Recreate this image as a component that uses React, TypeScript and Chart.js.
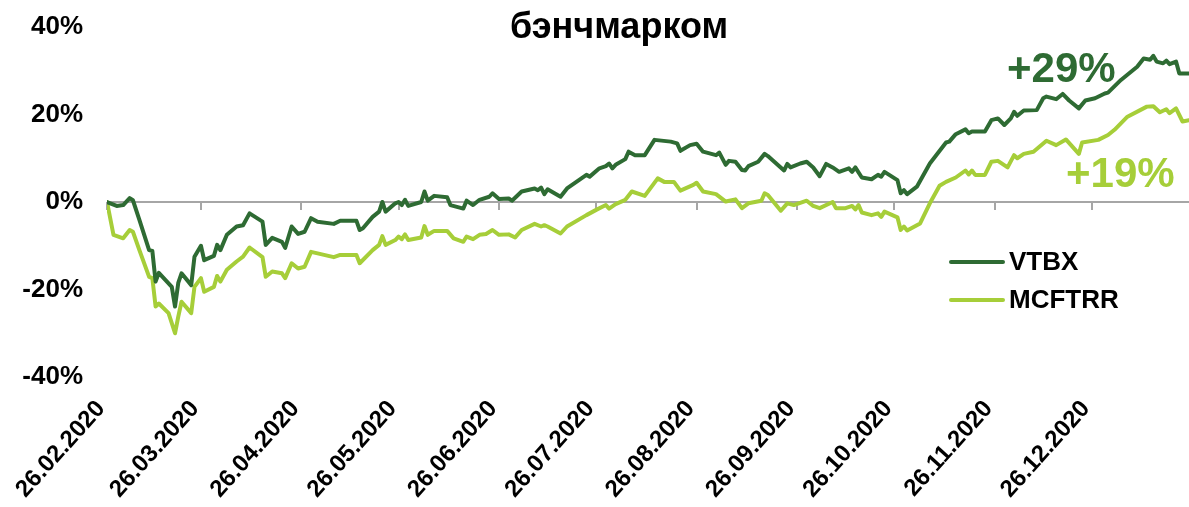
import React, { useEffect, useRef } from "react";
import { Chart, registerables } from "chart.js";

Chart.register(...registerables);

// ---- data ----
// Days are counted from 26.02.2020 (day 0)
const titleText = "бэнчмарком";
const tickDays = [0, 29, 60, 90, 121, 151, 182, 213, 243, 274, 304];
const tickLabels = [
  "26.02.2020", "26.03.2020", "26.04.2020", "26.05.2020", "26.06.2020",
  "26.07.2020", "26.08.2020", "26.09.2020", "26.10.2020", "26.11.2020", "26.12.2020",
];
const lastDay = 334;
const yTickValues = [-40, -20, 0, 20, 40];

const vtbxName = "VTBX";
const mcftrrName = "MCFTRR";
const vtbxFinalLabel = "+29%";
const mcftrrFinalLabel = "+19%";

const vtbxDays = [
  0, 3, 5, 7, 8, 10, 13, 14, 15, 16, 20, 21, 22, 23, 26, 27, 29, 30, 33, 34, 35, 37, 40, 42, 44,
  48, 49, 51, 54, 55, 57, 59, 61, 63, 65, 70, 72, 77, 78, 79, 82, 84, 85, 86, 89, 90, 91, 92, 93,
  97, 98, 99, 101, 105, 106, 110, 111, 113, 115, 118, 119, 121, 124, 125, 128, 132, 133, 134, 135,
  136, 140, 142, 148, 149, 152, 154, 155, 156, 157, 160, 161, 163, 166, 169, 174, 176, 177, 180,
  182, 184, 188, 189, 191, 192, 194, 196, 197, 198, 201, 203, 204, 209, 210, 211, 214, 216, 218,
  220, 222, 224, 226, 229, 230, 231, 233, 236, 238, 239, 240, 244, 245, 246, 247, 250, 254, 259,
  260, 262, 265, 266, 267, 271, 273, 275, 277, 279, 280, 281, 283, 287, 289, 290, 293, 295, 297,
  300, 302, 305, 308, 309, 313, 318, 320, 322, 323, 324, 326, 327, 328, 330, 331, 334,
];
const vtbxValues = [
  0, -0.9, -0.7, 0.9, 0.4, -4.1, -11, -11.2, -18.2, -16.2, -19.4, -23.9, -18.5, -16.3, -19, -12.5,
  -10, -13.3, -12.3, -9.8, -11, -7.5, -5.6, -5.3, -2.6, -4.5, -9.8, -8.2, -9.1, -10.5, -5.6, -7.3,
  -6.8, -3.7, -4.5, -5, -4.3, -4.3, -6.4, -6, -3.4, -2.2, 0, -2.2, -0.3, 0, -0.7, 0.5, -0.9, 0, 2.4,
  0.3, 1.4, 1.1, -0.7, -1.5, 0.3, -0.7, 0.5, 1.2, 2, 0.7, 0.8, 0.3, 2.4, 3.1, 2.7, 3.3, 1.8, 2.9,
  1.2, 3.1, 6.2, 5.8, 7.7, 8.2, 8.8, 7.7, 8.5, 9.8, 11.5, 10.7, 10.7, 14.2, 13.8, 13.4, 11.7, 13,
  13.3, 11.5, 10.7, 11.3, 8.5, 9.4, 9.2, 7.3, 7.2, 8.2, 9.2, 11, 10.5, 7.2, 8.7, 7.9, 8.8, 9.2, 7.9,
  5.9, 8.7, 7.9, 6.9, 7.7, 6.9, 7.9, 5.6, 5.2, 6.2, 5.8, 6.9, 5, 2, 2.7, 1.8, 3.5, 8.8, 13.6, 13.8,
  15.5, 16.6, 15.7, 16.1, 16.1, 18.7, 19.1, 17.6, 19.1, 20.6, 19.7, 20.9, 21, 23.7, 24.1, 23.5,
  24.7, 23.2, 21.4, 23.2, 23.7, 24.8, 25, 27.9, 30.9, 32.8, 32.5, 33.4, 32.1, 31.7, 32.3, 31.5,
  32.1, 29.4, 29.4,
];

const mcftrrDays = [
  0, 2, 5, 7, 8, 10, 13, 14, 15, 16, 19, 21, 22, 23, 26, 27, 29, 30, 33, 34, 35, 37, 40, 42, 44,
  48, 49, 51, 54, 55, 57, 59, 61, 63, 70, 72, 77, 78, 82, 84, 85, 86, 89, 90, 91, 92, 93, 97, 98,
  99, 101, 105, 107, 110, 111, 113, 115, 117, 119, 121, 124, 126, 128, 132, 134, 135, 136, 140,
  142, 148, 151, 154, 155, 157, 160, 162, 166, 170, 172, 175, 177, 181, 182, 184, 188, 191, 194,
  196, 198, 202, 203, 204, 208, 210, 212, 216, 218, 220, 224, 225, 228, 230, 231, 232, 233, 236,
  238, 239, 240, 244, 245, 246, 247, 251, 254, 257, 259, 262, 265, 266, 267, 268, 271, 273, 275,
  278, 280, 281, 283, 286, 290, 293, 296, 300, 301, 306, 309, 311, 315, 321, 323, 325, 327, 328,
  330, 332, 334,
];
const mcftrrValues = [
  0, -7.5, -8.3, -6.4, -6.8, -11, -17.1, -17.4, -23.9, -23.2, -25.4, -30, -26.2, -22.8, -25.4,
  -19.4, -17.4, -20.5, -19.4, -16.9, -18.2, -15.5, -13.6, -12.5, -10.4, -12.6, -17.1, -15.9, -16.3,
  -17.4, -14, -15.2, -14.8, -11.4, -12.6, -12.1, -12.1, -14, -11, -9.8, -7.8, -9.8, -8.7, -7.9,
  -8.5, -7.4, -8.7, -8.1, -5.5, -7.5, -6.6, -6.6, -8.3, -9.1, -7.9, -8.5, -7.5, -7.3, -6.4, -7.5,
  -7.4, -8.1, -6.4, -5, -5.6, -5.3, -5.6, -7.2, -5.6, -3, -1.8, -0.7, -1.5, -0.5, 0.5, 2.4, 1.4,
  5.4, 4.6, 4.6, 2.6, 3.9, 4.4, 2.4, 1.8, 0.1, 0.6, -1.4, -0.3, 0.3, 2, 1.6, -2, -0.3, -0.7, 0.3,
  -0.9, -1.4, 0, -1.4, -1.4, -0.9, -1.7, -0.7, -2.4, -3, -2.6, -3.4, -2.2, -3.5, -6.4, -5.6, -6.5,
  -4.9, -0.3, 3.7, 4.6, 5.6, 7.2, 6.3, 7.2, 6.2, 6.2, 9.2, 9.4, 7.9, 10.7, 10, 11, 11.5, 14, 13,
  14.3, 11, 13.6, 14.2, 15.3, 16.5, 19.5, 21.8, 21.9, 20.5, 21.2, 20.3, 21.4, 18.4, 18.7,
];

// ---- styles ----
const DARK = "#2E6B33";
const LIGHT = "#A6CE39";
const AXIS = "#A6A6A6";
const FONT = "'Liberation Sans', Arial, sans-serif";

const toPoints = (days: number[], vals: number[]) => days.map((d, i) => ({ x: d, y: vals[i] }));

const decorPlugin = {
  id: "decor",
  beforeDatasetsDraw(chart: any) {
    const { ctx, chartArea, scales } = chart;
    const y0 = scales.y.getPixelForValue(0);
    ctx.save();
    ctx.strokeStyle = AXIS;
    ctx.lineWidth = 2;
    ctx.beginPath();
    ctx.moveTo(chartArea.left, y0);
    ctx.lineTo(chartArea.right, y0);
    for (const d of tickDays) {
      const x = Math.round(scales.x.getPixelForValue(d));
      ctx.moveTo(x, y0);
      ctx.lineTo(x, y0 + 8);
    }
    ctx.stroke();
    ctx.restore();
  },
  afterDraw(chart: any) {
    const { ctx } = chart;
    ctx.save();
    // title
    ctx.fillStyle = "#000";
    ctx.font = `bold 36px ${FONT}`;
    ctx.textAlign = "center";
    ctx.textBaseline = "alphabetic";
    ctx.fillText(titleText, 619, 38);
    // final value labels
    ctx.font = `bold 42px ${FONT}`;
    ctx.textAlign = "left";
    ctx.fillStyle = DARK;
    ctx.fillText(vtbxFinalLabel, 1007, 82);
    ctx.fillStyle = LIGHT;
    ctx.fillText(mcftrrFinalLabel, 1066, 187);
    // legend
    const items = [
      { name: vtbxName, color: DARK, y: 262 },
      { name: mcftrrName, color: LIGHT, y: 300 },
    ];
    ctx.lineCap = "round";
    ctx.lineWidth = 4;
    ctx.font = `bold 26px ${FONT}`;
    ctx.textBaseline = "middle";
    for (const it of items) {
      ctx.strokeStyle = it.color;
      ctx.beginPath();
      ctx.moveTo(951, it.y);
      ctx.lineTo(1003, it.y);
      ctx.stroke();
      ctx.fillStyle = "#000";
      ctx.fillText(it.name, 1009, it.y + 1);
    }
    ctx.restore();
  },
};

export default function App() {
  const ref = useRef<HTMLCanvasElement>(null);
  useEffect(() => {
    if (!ref.current) return;
    const chart = new Chart(ref.current, {
      type: "line",
      data: {
        datasets: [
          {
            label: vtbxName,
            data: toPoints(vtbxDays, vtbxValues),
            borderColor: DARK,
            borderWidth: 4,
            pointRadius: 0,
            tension: 0,
            borderJoinStyle: "round",
            borderCapStyle: "round",
          },
          {
            label: mcftrrName,
            data: toPoints(mcftrrDays, mcftrrValues),
            borderColor: LIGHT,
            borderWidth: 4,
            pointRadius: 0,
            tension: 0,
            borderJoinStyle: "round",
            borderCapStyle: "round",
          },
        ],
      },
      options: {
        animation: false,
        responsive: false,
        devicePixelRatio: 1,
        layout: { padding: { top: 27, right: 0, left: 0, bottom: 0 } },
        plugins: { legend: { display: false }, tooltip: { enabled: false }, title: { display: false } },
        scales: {
          x: {
            type: "linear",
            min: 0,
            max: lastDay,
            border: { display: false },
            grid: { display: true, drawOnChartArea: false, drawTicks: true, tickLength: 18, tickColor: "rgba(0,0,0,0)" },
            afterBuildTicks: (scale: any) => {
              scale.ticks = tickDays.map((v) => ({ value: v }));
            },
            afterFit: (scale: any) => {
              scale.height = 130;
            },
            ticks: {
              autoSkip: false,
              minRotation: 48,
              maxRotation: 48,
              padding: 0,
              labelOffset: -6,
              color: "#000",
              font: { family: FONT, size: 24, weight: "bold" },
              callback: (v: any) => {
                const i = tickDays.indexOf(Number(v));
                return i >= 0 ? tickLabels[i] : "";
              },
            },
          },
          y: {
            min: -40,
            max: 40,
            border: { display: false },
            grid: { display: true, drawOnChartArea: false, drawTicks: true, tickLength: 24, tickColor: "rgba(0,0,0,0)" },
            afterBuildTicks: (scale: any) => {
              scale.ticks = yTickValues.map((v) => ({ value: v }));
            },
            afterFit: (scale: any) => {
              scale.width = 107;
            },
            ticks: {
              padding: 0,
              color: "#000",
              font: { family: FONT, size: 26, weight: "bold" },
              callback: (v: any) => `${v}%`,
            },
          },
        },
      },
      plugins: [decorPlugin],
    });
    return () => chart.destroy();
  }, []);
  return (
    <div style={{ position: "absolute", left: 0, top: 0, width: 1189, height: 507, background: "#fff" }}>
      <canvas ref={ref} width={1189} height={507} style={{ display: "block" }} />
    </div>
  );
}
